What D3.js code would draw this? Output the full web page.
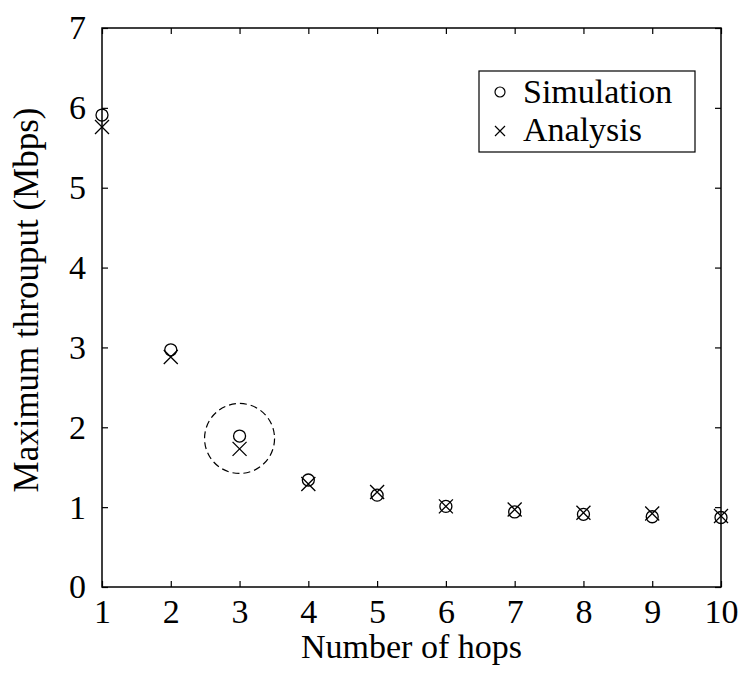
<!DOCTYPE html>
<html>
<head>
<meta charset="utf-8">
<script src="https://cdn.jsdelivr.net/npm/d3@7"></script>
<style>
    body { margin: 0; background: #fff; }
    svg text { font-family: "Liberation Serif", "Times New Roman", serif; fill: #000; }
</style>
</head>
<body>
<div class="graph"></div>
<script>
    // data
    const hops = [1, 2, 3, 4, 5, 6, 7, 8, 9, 10];
    const simulation = [5.91, 2.97, 1.89, 1.34, 1.15, 1.01, 0.94, 0.91, 0.88, 0.87];
    const analysis = [5.76, 2.88, 1.73, 1.29, 1.19, 1.01, 0.97, 0.93, 0.92, 0.89];
    const yTicks = [0, 1, 2, 3, 4, 5, 6, 7];
    const highlight = {hop: 3, value: 1.86};

    const width = 748, height = 678;
    const margin = {top: 28, right: 27, bottom: 91, left: 102};

    const svg = d3.select(".graph").append("svg")
        .attr("width", width)
        .attr("height", height);

    const x = d3.scaleLinear().domain([1, 10]).range([margin.left, width - margin.right]);
    const y = d3.scaleLinear().domain([0, 7]).range([height - margin.bottom, margin.top]);

    const tickLen = 6;
    const axisFont = 34;

    // frame
    svg.append("rect")
        .attr("x", x(1)).attr("y", y(7))
        .attr("width", x(10) - x(1)).attr("height", y(0) - y(7))
        .attr("fill", "none").attr("stroke", "#000").attr("stroke-width", 1.5);

    // axes with inward ticks, mirrored on top/right
    function styleAxis(g) {
        g.select(".domain").remove();
        g.selectAll(".tick line").attr("stroke", "#000").attr("stroke-width", 1.2);
        g.selectAll(".tick text").style("font-size", axisFont + "px");
    }

    svg.append("g")
        .attr("transform", "translate(0," + y(0) + ")")
        .call(d3.axisBottom(x).tickValues(hops).tickSizeInner(-tickLen).tickPadding(12).tickFormat(d3.format("d")))
        .call(styleAxis);

    svg.append("g")
        .attr("transform", "translate(0," + y(7) + ")")
        .call(d3.axisTop(x).tickValues(hops).tickSizeInner(-tickLen).tickFormat(""))
        .call(styleAxis);

    svg.append("g")
        .attr("transform", "translate(" + x(1) + ",0)")
        .call(d3.axisLeft(y).tickValues(yTicks).tickSizeInner(-tickLen).tickPadding(16).tickFormat(d3.format("d")))
        .call(styleAxis);

    svg.append("g")
        .attr("transform", "translate(" + x(10) + ",0)")
        .call(d3.axisRight(y).tickValues(yTicks).tickSizeInner(-tickLen).tickFormat(""))
        .call(styleAxis);

    // axis titles
    svg.append("text")
        .attr("x", (x(1) + x(10)) / 2)
        .attr("y", 658)
        .attr("text-anchor", "middle")
        .style("font-size", axisFont + "px")
        .text("Number of hops");

    svg.append("text")
        .attr("transform", "translate(38,300) rotate(-90)")
        .attr("text-anchor", "middle")
        .style("font-size", "35px")
        .text("Maximum throuput (Mbps)");

    // dashed highlight circle
    svg.append("circle")
        .attr("cx", x(highlight.hop))
        .attr("cy", y(highlight.value))
        .attr("r", 35)
        .attr("fill", "none")
        .attr("stroke", "#000")
        .attr("stroke-width", 1.2)
        .attr("stroke-dasharray", "7,4");

    const circleR = 6, crossR = 7;

    function crossPath(cx, cy, r) {
        return "M" + (cx - r) + "," + (cy - r) + "L" + (cx + r) + "," + (cy + r) +
            "M" + (cx - r) + "," + (cy + r) + "L" + (cx + r) + "," + (cy - r);
    }

    svg.append("g").selectAll("circle")
        .data(hops)
        .join("circle")
        .attr("cx", d => x(d))
        .attr("cy", (d, i) => y(simulation[i]))
        .attr("r", circleR)
        .attr("fill", "none")
        .attr("stroke", "#000")
        .attr("stroke-width", 1.3);

    svg.append("g").selectAll("path")
        .data(hops)
        .join("path")
        .attr("d", (d, i) => crossPath(x(d), y(analysis[i]), crossR))
        .attr("fill", "none")
        .attr("stroke", "#000")
        .attr("stroke-width", 1.3);

    // legend
    const legend = svg.append("g");
    legend.append("rect")
        .attr("x", 479).attr("y", 71)
        .attr("width", 216).attr("height", 81)
        .attr("fill", "#fff").attr("stroke", "#000").attr("stroke-width", 1.2);

    legend.append("circle")
        .attr("cx", 500).attr("cy", 92).attr("r", 5)
        .attr("fill", "none").attr("stroke", "#000").attr("stroke-width", 1.2);
    legend.append("path")
        .attr("d", crossPath(500, 131, 5))
        .attr("stroke", "#000").attr("stroke-width", 1.2);

    legend.append("text").attr("x", 523).attr("y", 103)
        .style("font-size", axisFont + "px").text("Simulation");
    legend.append("text").attr("x", 523).attr("y", 141)
        .style("font-size", axisFont + "px").text("Analysis");
</script>
</body>
</html>
